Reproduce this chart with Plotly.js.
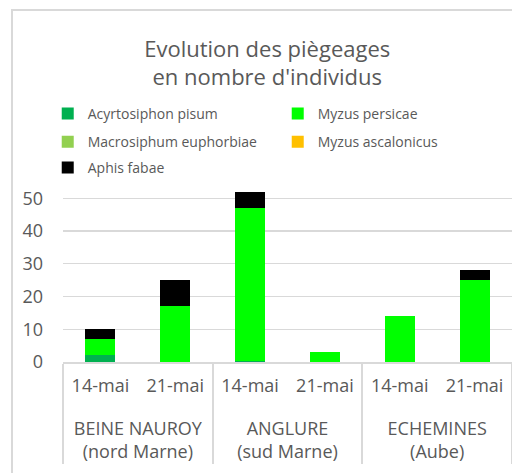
<!DOCTYPE html>
<html>
<head>
<meta charset="utf-8">
<script src="https://cdn.plot.ly/plotly-3.0.1.min.js"></script>
<style>
  html, body { margin: 0; padding: 0; background: #fff; }
  #frame { position: absolute; left: 11px; top: 9px; width: 520px; height: 480px;
           border-left: 2px solid #d9d9d9; border-top: 2px solid #d9d9d9; pointer-events: none; }
  #chart { width: 512px; height: 473px; }
</style>
</head>
<body>
<div id="chart"></div>
<div id="frame"></div>
<script>
const sites = ["<br>BEINE NAUROY<br>(nord Marne)", "<br>BEINE NAUROY<br>(nord Marne)",
               "<br>ANGLURE<br>(sud Marne)", "<br>ANGLURE<br>(sud Marne)",
               "<br>ECHEMINES<br>(Aube)", "<br>ECHEMINES<br>(Aube)"];
const dates = ["14-mai", "21-mai", "14-mai", "21-mai", "14-mai", "21-mai"];

const acyrtosiphonPisum = [2, 0, 0.3, 0, 0, 0];
const myzusPersicae = [5, 17, 46.7, 3, 14, 25];
const macrosiphumEuphorbiae = [0, 0, 0, 0, 0, 0];
const myzusAscalonicus = [0, 0, 0, 0, 0, 0];
const aphisFabae = [3, 8, 5, 0, 0, 3];

const seriesNames = ["Acyrtosiphon pisum", "Myzus persicae", "Macrosiphum euphorbiae", "Myzus ascalonicus", "Aphis fabae"];
const seriesValues = [acyrtosiphonPisum, myzusPersicae, macrosiphumEuphorbiae, myzusAscalonicus, aphisFabae];
const seriesColors = ["#00b050", "#00ff00", "#92d050", "#ffc000", "#000000"];
const seriesLegend = ["legend", "legend", "legend2", "legend2", "legend3"];

const traces = seriesNames.map((n, i) => ({
  type: "bar",
  name: n,
  x: [sites, dates],
  y: seriesValues[i],
  legend: seriesLegend[i],
  marker: { color: seriesColors[i], line: { width: 0 } },
  hoverinfo: "skip"
}));

const gray = "#595959";
function legendRow(yPaper) {
  return {
    orientation: "h",
    traceorder: "normal",
    x: -0.034, xanchor: "left",
    y: yPaper, yanchor: "middle",
    entrywidth: 185,
    font: { size: 14, color: gray },
    itemwidth: 30,
    bgcolor: "rgba(0,0,0,0)",
    borderwidth: 0
  };
}

const layout = {
  width: 512, height: 473,
  margin: { l: 63, r: 0, t: 182, b: 111 },
  paper_bgcolor: "#ffffff", plot_bgcolor: "#ffffff",
  barmode: "stack",
  bargap: 0.6,
  font: { family: "Open Sans, sans-serif", color: gray },
  title: {
    text: "Evolution des piègeages<br>en nombre d'individus",
    font: { size: 22, color: gray },
    x: 0.522, xanchor: "center", y: 0.880, yanchor: "middle"
  },
  showlegend: true,
  legend: legendRow(1.378),
  legend2: legendRow(1.222),
  legend3: legendRow(1.078),
  xaxis: {
    type: "multicategory",
    showgrid: false,
    showline: true, linecolor: "#d9d9d9", linewidth: 2,
    showdividers: true, dividercolor: "#d9d9d9", dividerwidth: 2,
    tickfont: { size: 18, color: gray },
    ticks: "",
    ticklabelstandoff: 6
  },
  yaxis: {
    range: [0, 55],
    dtick: 10,
    tick0: 0,
    showgrid: true, gridcolor: "#d9d9d9", gridwidth: 1.3,
    zeroline: false,
    showline: false,
    ticks: "",
    ticklabelstandoff: 19,
    tickfont: { size: 18, color: gray },
    fixedrange: true
  }
};

Plotly.newPlot("chart", traces, layout, { displayModeBar: false, staticPlot: true });
</script>
</body>
</html>
